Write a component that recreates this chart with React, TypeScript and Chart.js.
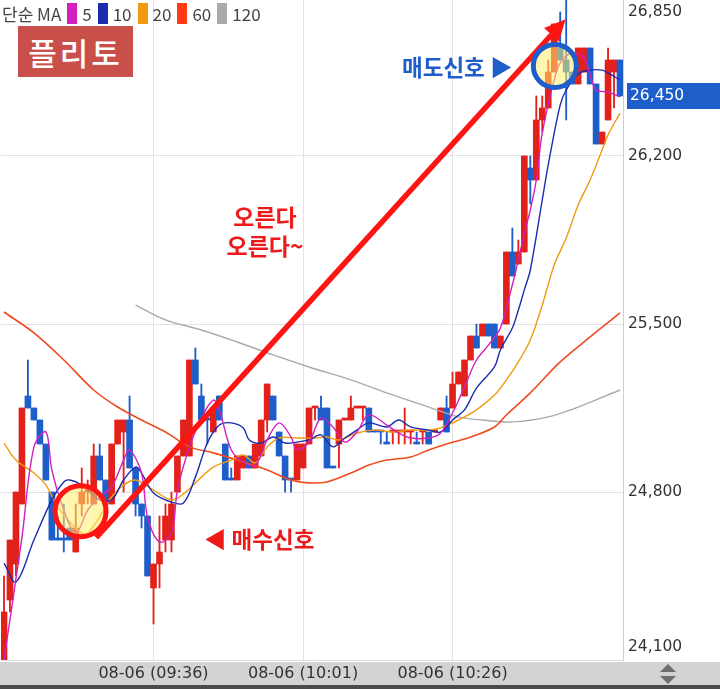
import React, { useEffect, useRef } from 'react';
import { Chart, registerables } from 'chart.js';

Chart.register(...registerables);

// ---- candle data (1-minute bars, 08-06 09:11 .. 10:54) ----
const opens = [
  24100, 24350, 24500, 24750, 25200, 25150, 25100, 25000, 24800, 24600,
  24600, 24650, 24550, 24750, 24800, 24750, 24950, 24850, 24750, 25000,
  25050, 25100, 24900, 24750, 24700, 24400, 24500, 24600, 24600, 24800,
  24950, 24950, 25350, 25200, 25100, 25050, 25200, 25000, 24850, 24850,
  24900, 24950, 24900, 24950, 25100, 25200, 25050, 24950, 24850, 24850,
  24900, 25000, 25150, 25150, 25150, 24900, 25000, 25100, 25100, 25150,
  25150, 25150, 25050, 25050, 25000, 25050, 25050, 25050, 25050, 25000,
  25050, 25050, 25050, 25100, 25150, 25150, 25250, 25200, 25350, 25450,
  25450, 25500, 25500, 25400, 25500, 25800, 25750, 25800, 26150, 26100,
  26350, 26400, 26550, 26650, 26600, 26550, 26500, 26550, 26650, 26500,
  26250, 26350, 26550, 26600,
];
const highs = [
  24450, 24600, 24800, 25150, 25350, 25150, 25100, 25000, 24800, 24700,
  24750, 24650, 24750, 24900, 24850, 25000, 25000, 24850, 25000, 25100,
  25100, 25200, 24900, 24750, 24700, 24500, 24700, 24750, 24800, 24950,
  25100, 25350, 25400, 25250, 25100, 25150, 25200, 25000, 24900, 24950,
  24950, 24950, 25000, 25100, 25250, 25200, 25050, 24950, 24850, 25000,
  25000, 25150, 25150, 25200, 25150, 24900, 25100, 25100, 25200, 25150,
  25150, 25150, 25050, 25050, 25050, 25050, 25050, 25150, 25050, 25050,
  25050, 25050, 25050, 25150, 25200, 25300, 25300, 25350, 25450, 25500,
  25500, 25500, 25500, 25450, 25800, 25900, 25850, 26200, 26200, 26450,
  26450, 26600, 26750, 26800, 26850, 26550, 26650, 26650, 26650, 26500,
  26300, 26650, 26600, 26600,
];
const lows = [
  24100, 24300, 24450, 24750, 25150, 25100, 25000, 24850, 24600, 24600,
  24550, 24600, 24550, 24700, 24750, 24750, 24850, 24750, 24750, 25000,
  24800, 24900, 24700, 24650, 24450, 24250, 24400, 24550, 24550, 24800,
  24950, 24950, 25250, 25100, 25000, 25050, 25100, 24850, 24850, 24850,
  24900, 24900, 24900, 24950, 25050, 25100, 24950, 24800, 24800, 24850,
  24900, 25000, 25100, 25100, 24900, 24900, 24900, 25100, 25100, 25150,
  25100, 25050, 25050, 25000, 25000, 25000, 25000, 25000, 25000, 25000,
  25000, 25000, 25050, 25100, 25050, 25150, 25250, 25200, 25350, 25400,
  25450, 25450, 25400, 25400, 25500, 25700, 25750, 25800, 26000, 26100,
  26300, 26400, 26550, 26600, 26350, 26500, 26500, 26550, 26500, 26250,
  26250, 26350, 26400, 26450,
];
const closes = [
  24300, 24600, 24800, 25150, 25150, 25100, 25000, 24850, 24600, 24600,
  24600, 24600, 24650, 24800, 24800, 24950, 24850, 24750, 25000, 25100,
  25100, 24900, 24750, 24700, 24450, 24500, 24550, 24700, 24750, 24950,
  25100, 25350, 25250, 25100, 25100, 25150, 25100, 24850, 24850, 24950,
  24950, 24900, 25000, 25100, 25250, 25100, 24950, 24850, 24850, 25000,
  25000, 25150, 25150, 25100, 24900, 24900, 25100, 25100, 25150, 25150,
  25150, 25050, 25050, 25050, 25000, 25050, 25050, 25050, 25050, 25000,
  25050, 25000, 25050, 25150, 25050, 25250, 25300, 25350, 25450, 25400,
  25500, 25450, 25400, 25450, 25800, 25700, 25800, 26200, 26100, 26350,
  26400, 26550, 26750, 26600, 26550, 26500, 26650, 26650, 26500, 26250,
  26300, 26600, 26600, 26450,
];

// ---- moving averages as [bar index, price] ----
const ma5Points = [
  [0, 24100], [3, 24612], [5, 24987], [7, 25050], [8, 24892], [10, 24725], [12, 24629],
  [14, 24725], [16, 24779], [18, 24821], [20, 24933], [21, 24975], [23, 24879], [24, 24696],
  [26, 24592], [28, 24629], [29, 24808], [31, 24987], [33, 25108], [35, 25183], [36, 25142],
  [38, 24975], [40, 24925], [42, 24912], [44, 25017], [46, 25088], [48, 25029], [49, 24975],
  [51, 25008], [53, 25108], [55, 25071], [57, 25008], [59, 25050], [61, 25121], [64, 25079],
  [66, 25046], [68, 25025], [71, 25025], [73, 25046], [75, 25129], [77, 25238], [79, 25350],
  [81, 25412], [83, 25483], [85, 25663], [86, 25767], [87, 25879], [88, 25975], [89, 26100],
  [90, 26296], [92, 26517], [93, 26588], [95, 26629], [97, 26608], [98, 26538], [99, 26475],
  [101, 26467], [103, 26446],
];
const ma10Points = [
  [0, 24504], [2, 24425], [5, 24600], [8, 24767], [10, 24842], [11, 24850], [13, 24829],
  [16, 24767], [18, 24767], [20, 24850], [22, 24904], [23, 24879], [25, 24796], [28, 24758],
  [30, 24754], [32, 24862], [34, 25004], [36, 25079], [38, 25088], [40, 25067], [41, 25017],
  [43, 25004], [45, 25029], [47, 25004], [49, 25008], [51, 25017], [53, 25038], [55, 24988],
  [57, 25025], [59, 25058], [61, 25088], [64, 25071], [66, 25100], [68, 25071], [71, 25058],
  [73, 25050], [75, 25100], [77, 25142], [79, 25233], [82, 25321], [83, 25392], [85, 25483],
  [86, 25558], [87, 25642], [88, 25725], [90, 26017], [91, 26163], [93, 26413], [94, 26475],
  [96, 26542], [98, 26558], [100, 26558], [101, 26546], [103, 26517],
];
const ma20Points = [
  [0, 25004], [2, 24933], [5, 24879], [7, 24829], [9, 24738], [11, 24675], [13, 24629],
  [14, 24629], [16, 24696], [18, 24779], [20, 24829], [22, 24850], [25, 24808], [28, 24767],
  [30, 24792], [33, 24862], [35, 24904], [38, 24933], [40, 24954], [42, 24921], [44, 24987],
  [46, 25025], [49, 25025], [52, 25025], [54, 25029], [56, 25017], [59, 25046], [62, 25058],
  [65, 25050], [68, 25058], [71, 25058], [73, 25067], [76, 25100], [79, 25142], [82, 25204],
  [84, 25267], [86, 25342], [88, 25433], [90, 25579], [92, 25746], [94, 25858], [96, 25996],
  [98, 26100], [100, 26225], [101, 26288], [103, 26379],
];
const ma60Points = [
  [0, 25550], [5, 25463], [10, 25350], [15, 25225], [19, 25154], [23, 25100], [27, 25050],
  [31, 24988], [35, 24963], [40, 24925], [44, 24892], [48, 24850], [51, 24838], [54, 24842],
  [58, 24879], [61, 24912], [64, 24933], [68, 24946], [71, 24975], [74, 25000], [78, 25029],
  [82, 25071], [84, 25121], [88, 25213], [93, 25342], [98, 25446], [103, 25546],
];
const ma120Points = [
  [22, 25579], [27, 25517], [33, 25475], [39, 25425], [45, 25371], [51, 25321], [58, 25267],
  [64, 25213], [71, 25154], [76, 25113], [80, 25100], [85, 25092], [91, 25113], [96, 25154],
  [103, 25225],
];

// ---- axis settings ----
const DATE_LABEL = '08-06';
const START_MINUTE = 9 * 60 + 11;
const X_TICK_INDEXES = [25, 50, 75];
const Y_MIN = 24100;
const Y_MAX = 26850;
const Y_GRID_VALUES = [24800, 25500, 26200];
const Y_LABEL_VALUES = [24100, 24800, 25500, 26200, 26850];
const LAST_PRICE = 26450;

// ---- annotation anchors (bar index, price) ----
const BUY_MARK = { index: 12.8, price: 24720 };
const SELL_MARK = { index: 92.1, price: 26575 };
const ARROW_FROM = { index: 15.4, price: 24610 };
const ARROW_TO = { index: 93.9, price: 26770 };

const MA_LEGEND = [
  { label: '5', color: '#d21fbe' },
  { label: '10', color: '#1b2cae' },
  { label: '20', color: '#f09a12' },
  { label: '60', color: '#ff3a12' },
  { label: '120', color: '#aaaaaa' },
];

const RED = '#e3211b';
const BLUE = '#1e5ecb';

const N = opens.length;
const pad2 = (n: number) => String(n).padStart(2, '0');
const labels = Array.from({ length: N }, (_, i) => {
  const m = START_MINUTE + i;
  return `${DATE_LABEL} (${pad2(Math.floor(m / 60))}:${pad2(m % 60)})`;
});

const candleColors: string[] = [];
for (let i = 0; i < N; i++) {
  let c: string;
  if (closes[i] > opens[i]) c = RED;
  else if (closes[i] < opens[i]) c = BLUE;
  else if (i > 0 && closes[i] > closes[i - 1]) c = RED;
  else if (i > 0 && closes[i] < closes[i - 1]) c = BLUE;
  else c = i > 0 ? candleColors[i - 1] : RED;
  candleColors.push(c);
}

const toSeries = (pts: number[][]) => {
  const arr: (number | null)[] = new Array(N).fill(null);
  pts.forEach(([i, v]) => {
    arr[i] = v;
  });
  return arr;
};

const fmt = (v: number) => v.toLocaleString('en-US');

const decorPlugin = {
  id: 'decor',
  beforeDraw(chart: any) {
    const { ctx, chartArea, width, height } = chart;
    ctx.save();
    ctx.fillStyle = '#ffffff';
    ctx.fillRect(0, 0, width, height);
    ctx.fillStyle = '#d3d3d3';
    ctx.fillRect(0, chartArea.bottom + 2, width, height - chartArea.bottom - 6);
    ctx.fillStyle = '#4a4a4a';
    ctx.fillRect(0, height - 4, width, 4);
    // scroll arrows icon
    ctx.fillStyle = '#6e6e6e';
    const cx = 668;
    const top = chartArea.bottom + 4;
    ctx.beginPath();
    ctx.moveTo(cx, top);
    ctx.lineTo(cx + 8, top + 8);
    ctx.lineTo(cx - 8, top + 8);
    ctx.closePath();
    ctx.fill();
    ctx.beginPath();
    ctx.moveTo(cx - 8, top + 12);
    ctx.lineTo(cx + 8, top + 12);
    ctx.lineTo(cx, top + 20);
    ctx.closePath();
    ctx.fill();
    ctx.restore();
  },
  afterDatasetsDraw(chart: any) {
    const { ctx, scales } = chart;
    const x = scales.x;
    const y = scales.y;
    const px = (p: { index: number; price: number }) => [x.getPixelForValue(p.index), y.getPixelForValue(p.price)];
    ctx.save();
    // arrow
    const [x1, y1] = px(ARROW_FROM);
    const [x2, y2] = px(ARROW_TO);
    const ang = Math.atan2(y2 - y1, x2 - x1);
    const headLen = 21;
    const headW = 10;
    const bx = x2 - headLen * Math.cos(ang);
    const by = y2 - headLen * Math.sin(ang);
    ctx.strokeStyle = '#ff1414';
    ctx.lineWidth = 5.5;
    ctx.beginPath();
    ctx.moveTo(x1, y1);
    ctx.lineTo(bx, by);
    ctx.stroke();
    ctx.fillStyle = '#ff1414';
    ctx.beginPath();
    ctx.moveTo(x2, y2);
    ctx.lineTo(bx + headW * Math.sin(ang), by - headW * Math.cos(ang));
    ctx.lineTo(bx - headW * Math.sin(ang), by + headW * Math.cos(ang));
    ctx.closePath();
    ctx.fill();
    // circles
    const drawRing = (p: { index: number; price: number }, r: number, color: string) => {
      const [cx, cy] = px(p);
      ctx.beginPath();
      ctx.arc(cx, cy, r, 0, Math.PI * 2);
      ctx.fillStyle = 'rgba(255, 240, 110, 0.55)';
      ctx.fill();
      ctx.lineWidth = 5;
      ctx.strokeStyle = color;
      ctx.stroke();
    };
    drawRing(BUY_MARK, 25.5, '#ff1414');
    drawRing(SELL_MARK, 21.5, '#1e5ecb');
    ctx.restore();
  },
  afterDraw(chart: any) {
    const { ctx, scales, chartArea } = chart;
    const y = scales.y;
    const left = chartArea.right + 5;
    ctx.save();
    ctx.font = '15.5px "DejaVu Sans", sans-serif';
    ctx.textBaseline = 'middle';
    ctx.textAlign = 'left';
    ctx.fillStyle = '#333333';
    Y_LABEL_VALUES.forEach((v) => {
      let py = y.getPixelForValue(v);
      py = Math.max(chartArea.top + 12, Math.min(chartArea.bottom - 13, py));
      ctx.fillText(fmt(v), left, py);
    });
    // last price tag
    const ty = y.getPixelForValue(LAST_PRICE);
    ctx.fillStyle = '#1e5ecb';
    ctx.fillRect(chartArea.right + 4, ty - 13, chart.width - chartArea.right - 4, 26);
    ctx.fillStyle = '#ffffff';
    ctx.fillText(fmt(LAST_PRICE), left + 2, ty);
    ctx.restore();
  },
};

export default function App() {
  const canvasRef = useRef<HTMLCanvasElement | null>(null);

  useEffect(() => {
    document.body.style.margin = '0';
    const canvas = canvasRef.current;
    if (!canvas) return;
    const lineDs = (label: string, pts: number[][], color: string, width: number, order: number) => ({
      type: 'line' as const,
      label,
      data: toSeries(pts),
      borderColor: color,
      borderWidth: width,
      pointRadius: 0,
      spanGaps: true,
      tension: 0.35,
      order,
    });
    const chart = new Chart(canvas, {
      type: 'bar',
      data: {
        labels,
        datasets: [
          lineDs('MA5', ma5Points, MA_LEGEND[0].color, 1.4, 1),
          lineDs('MA10', ma10Points, MA_LEGEND[1].color, 1.4, 2),
          lineDs('MA20', ma20Points, MA_LEGEND[2].color, 1.4, 3),
          lineDs('MA60', ma60Points, '#f04a20', 1.6, 4),
          lineDs('MA120', ma120Points, MA_LEGEND[4].color, 1.4, 5),
          {
            type: 'bar' as const,
            label: 'body',
            data: opens.map((o, i) => [o, closes[i]]),
            backgroundColor: candleColors,
            borderWidth: 0,
            barThickness: 6,
            minBarLength: 2,
            grouped: false,
            order: 10,
          } as any,
          {
            type: 'bar' as const,
            label: 'wick',
            data: lows.map((l, i) => [l, highs[i]]),
            backgroundColor: candleColors,
            borderWidth: 0,
            barThickness: 1.2,
            minBarLength: 1,
            grouped: false,
            order: 11,
          } as any,
        ],
      },
      options: {
        animation: false,
        responsive: false,
        devicePixelRatio: 1,
        layout: { padding: 0 },
        plugins: { legend: { display: false }, tooltip: { enabled: false } },
        scales: {
          x: {
            type: 'category',
            offset: true,
            grid: {
              offset: false,
              drawTicks: false,
              color: (c: any) => (X_TICK_INDEXES.includes(c.index) ? '#e2e2e2' : 'rgba(0,0,0,0)'),
            },
            border: { display: true, color: '#dddddd' },
            ticks: {
              autoSkip: false,
              maxRotation: 0,
              minRotation: 0,
              padding: 4,
              color: '#333333',
              font: { family: '"DejaVu Sans", sans-serif', size: 16 },
              callback: (_v: any, i: number) => (X_TICK_INDEXES.includes(i) ? labels[i] : ''),
            },
            afterFit: (s: any) => {
              s.height = 29;
            },
          },
          y: {
            type: 'linear',
            position: 'right',
            min: Y_MIN,
            max: Y_MAX,
            afterBuildTicks: (s: any) => {
              s.ticks = Y_GRID_VALUES.map((v) => ({ value: v }));
            },
            grid: { color: '#e2e2e2', drawTicks: false },
            border: { display: true, color: '#cfcfcf' },
            ticks: { display: false },
            afterFit: (s: any) => {
              s.width = 97;
            },
          },
        },
      } as any,
      plugins: [decorPlugin],
    });
    return () => chart.destroy();
  }, []);

  const kr = '"Noto Sans CJK KR", sans-serif';
  return (
    <div style={{ position: 'absolute', left: 0, top: 0, width: 720, height: 689, overflow: 'hidden', background: '#fff' }}>
      <canvas ref={canvasRef} width={720} height={689} style={{ display: 'block' }} />
      <div
        style={{
          position: 'absolute', left: 2, top: 1, height: 24, display: 'flex', alignItems: 'center',
          fontFamily: kr, fontSize: 17, color: '#444', whiteSpace: 'nowrap',
        }}
      >
        <span style={{ marginRight: 6 }}>단순 MA</span>
        {MA_LEGEND.map((m) => (
          <span key={m.label} style={{ display: 'flex', alignItems: 'center' }}>
            <span style={{ display: 'inline-block', width: 10, height: 21, background: m.color, marginRight: 5 }} />
            <span style={{ marginRight: 6 }}>{m.label}</span>
          </span>
        ))}
      </div>
      <div
        style={{
          position: 'absolute', left: 18, top: 26, width: 115, height: 51, background: '#c9504a',
          color: '#fff', fontFamily: kr, fontSize: 31, fontWeight: 500, display: 'flex',
          alignItems: 'center', justifyContent: 'center', letterSpacing: 3,
        }}
      >
        플리토
      </div>
      <div
        style={{
          position: 'absolute', left: 205, top: 202, width: 120, textAlign: 'center', color: '#ee1a1a',
          fontFamily: kr, fontSize: 23, fontWeight: 700, lineHeight: '29px',
        }}
      >
        오른다<br />오른다~
      </div>
      <div
        style={{
          position: 'absolute', left: 402, top: 51, color: '#1e5ecb', fontFamily: kr, fontSize: 22.5,
          fontWeight: 700, whiteSpace: 'nowrap', lineHeight: '30px',
        }}
      >
        매도신호 ▶
      </div>
      <div
        style={{
          position: 'absolute', left: 204, top: 523, color: '#ee1a1a', fontFamily: kr, fontSize: 22.5,
          fontWeight: 700, whiteSpace: 'nowrap', lineHeight: '30px',
        }}
      >
        ◀ 매수신호
      </div>
    </div>
  );
}
